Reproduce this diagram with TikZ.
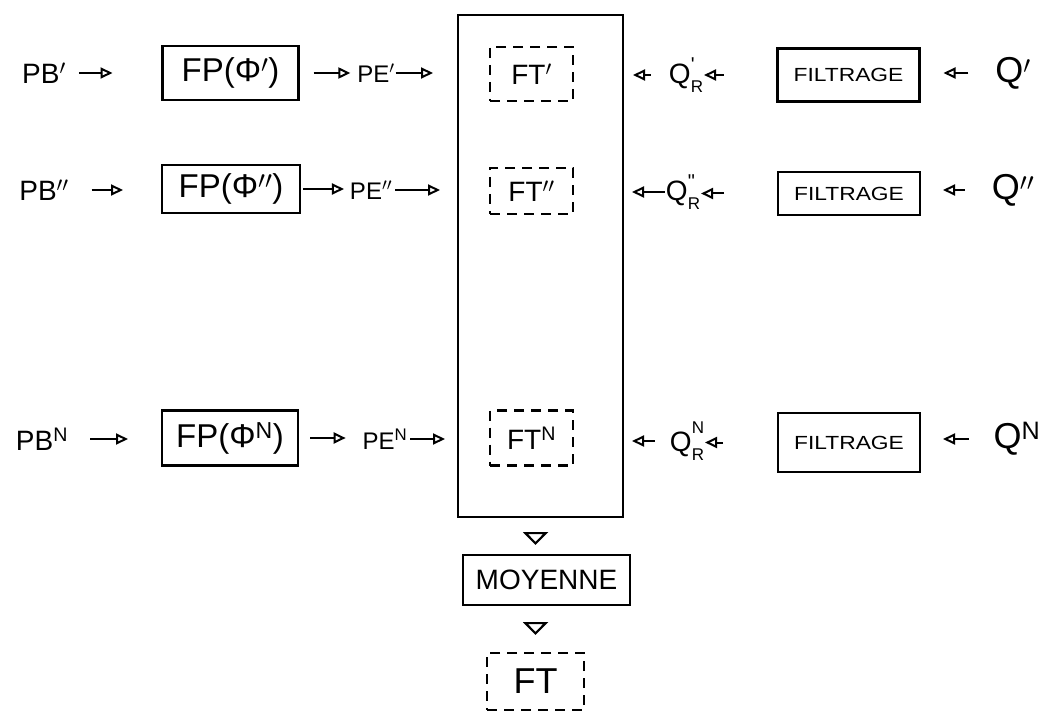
\documentclass[tikz,border=0pt]{standalone}
\usepackage{fontspec}
\setmainfont{Liberation Sans}
\usetikzlibrary{arrows.meta}
\newcommand{\qsub}[1]{Q\rlap{#1}\raisebox{-0.32em}{\fontsize{17}{17}\selectfont R}}
\newcommand{\smallsup}[1]{\raisebox{0.62em}{\fontsize{17}{17}\selectfont #1}}
\newcommand{\tick}[1]{\raisebox{0.45em}{\fontsize{20}{20}\selectfont #1}}
\begin{document}
\begin{tikzpicture}[x=1pt,y=-1pt,
  lbl/.style={inner sep=0pt, outer sep=0pt, font=\fontsize{28}{32}\selectfont},
  sml/.style={inner sep=0pt, outer sep=0pt, font=\fontsize{24}{28}\selectfont},
  big/.style={inner sep=0pt, outer sep=0pt, font=\fontsize{36}{40}\selectfont},
  box/.style={draw, line width=2.2pt, inner sep=0pt, outer sep=0pt},
  dbox/.style={draw, line width=2.2pt, dash pattern=on 10pt off 7pt, inner sep=0pt, outer sep=0pt},
  fpbox/.style={box, minimum width=136pt, font=\fontsize{33}{36}\selectfont},
  ftbox/.style={dbox, minimum width=83pt, font=\fontsize{28}{32}\selectfont},
  fibox/.style={box, minimum width=142pt, font=\fontsize{19}{22}\selectfont},
  arr/.style={line width=2pt, -{Triangle[open, length=12pt, width=11pt, line width=2pt]}},
  tri/.style={white, line width=0.5pt, -{Triangle[open, length=13pt, width=25pt, line width=2.2pt, black]}}
]
\useasboundingbox (0,0) rectangle (1051,711);

% big box
\node[box, minimum width=165pt, minimum height=502pt] (bigbox) at (540.5,266) {};

% ---------- row 1
\node[lbl] (pb1) at (44,73) {PB$'$};
\node[fpbox, minimum height=54pt] (fp1) at (230.5,73) {FP(Φ$'$)};
\node[sml] (pe1) at (376,73) {PE$'$};
\node[ftbox, minimum height=54pt] (ft1) at (531.5,74) {FT$'$};
\node[lbl] (qr1) at (686,75) {\qsub{\tick{\textquotesingle}}};
\node[fibox, minimum height=53pt] (fi1) at (848.5,75) {\scalebox{1.2}[1]{FILTRAGE}};
\node[big] (q1) at (1013,73) {Q$'$};

\draw[arr, shorten <=13pt, shorten >=50pt] (pb1.east) -- (pb1.east -| fp1.west);
\draw[arr, shorten <=15pt, shorten >=7pt] (fp1.east) -- (fp1.east -| pe1.west);
\draw[arr, shorten <=1pt, shorten >=25pt] (pe1.east) -- (pe1.east -| bigbox.west);
\draw[arr, shorten <=18pt, shorten >=10pt] (qr1.west) -- (qr1.west -| bigbox.east);
\draw[arr, shorten <=54pt, shorten >=1pt] (fi1.west) -- (fi1.west -| qr1.east);
\draw[arr, shorten <=27pt, shorten >=24pt] (q1.west) -- (q1.west -| fi1.east);

% ---------- row 2
\node[lbl] (pb2) at (44,190) {PB$''$};
\node[fpbox, minimum height=48pt, minimum width=138pt] (fp2) at (231,189) {FP(Φ$''$)};
\node[sml] (pe2) at (371,190) {PE$''$};
\node[ftbox, minimum height=46pt] (ft2) at (531.5,191) {FT$''$};
\node[lbl] (qr2) at (683,192) {\qsub{\tick{\textquotedbl}}};
\node[fibox, minimum height=43pt] (fi2) at (849,193.5) {\scalebox{1.2}[1]{FILTRAGE}};
\node[big] (q2) at (1013,190) {Q$''$};

\draw[arr, shorten <=23pt, shorten >=39pt] (pb2.east) -- (pb2.east -| fp2.west);
\draw[arr, shorten <=3pt, shorten >=6pt] (fp2.east) -- (fp2.east -| pe2.west);
\draw[arr, shorten <=3pt, shorten >=18pt] (pe2.east) -- (pe2.east -| bigbox.west);
\draw[arr, shorten <=1pt, shorten >=9pt] (qr2.west) -- (qr2.west -| bigbox.east);
\draw[arr, shorten <=54pt, shorten >=1pt] (fi2.west) -- (fi2.west -| qr2.east);
\draw[arr, shorten <=27pt, shorten >=23pt] (q2.west) -- (q2.west -| fi2.east);

% ---------- row N
\node[lbl] (pbn) at (42,439) {PB\textsuperscript{N}};
\node[fpbox, minimum height=55pt] (fpn) at (230,438) {FP(Φ\textsuperscript{N})};
\node[sml] (pen) at (385,439) {PE\textsuperscript{N}};
\node[ftbox, minimum height=55pt] (ftn) at (531.5,438) {FT\textsuperscript{N}};
\node[lbl] (qrn) at (687,441) {\qsub{\smallsup{N}}};
\node[fibox, minimum height=59pt] (fin) at (849,442.5) {\scalebox{1.2}[1]{FILTRAGE}};
\node[big] (qn) at (1017,439) {Q\textsuperscript{N}};

\draw[arr, shorten <=22pt, shorten >=34pt] (pbn.east) -- (pbn.east -| fpn.west);
\draw[arr, shorten <=12pt, shorten >=17pt] (fpn.east) -- (fpn.east -| pen.west);
\draw[arr, shorten <=3pt, shorten >=13pt] (pen.east) -- (pen.east -| bigbox.west);
\draw[arr, shorten <=15pt, shorten >=9pt] (qrn.west) -- (qrn.west -| bigbox.east);
\draw[arr, shorten <=55pt, shorten >=1pt] (fin.west) -- (fin.west -| qrn.east);
\draw[arr, shorten <=25pt, shorten >=23pt] (qn.west) -- (qn.west -| fin.east);

% ---------- bottom
\node[box, minimum width=167pt, minimum height=50pt, font=\fontsize{28}{32}\selectfont] (moy) at (546.5,580) {MOYENNE};
\node[dbox, minimum width=97pt, minimum height=57pt, font=\fontsize{36}{40}\selectfont] (ftb) at (535.5,681.5) {FT};

\draw[tri, shorten <=15pt, shorten >=10pt] (bigbox.south -| ftb.north) -- (ftb.north |- moy.north);
\draw[tri, shorten <=17pt, shorten >=18pt] (ftb.north |- moy.south) -- (ftb.north);
\end{tikzpicture}
\end{document}
